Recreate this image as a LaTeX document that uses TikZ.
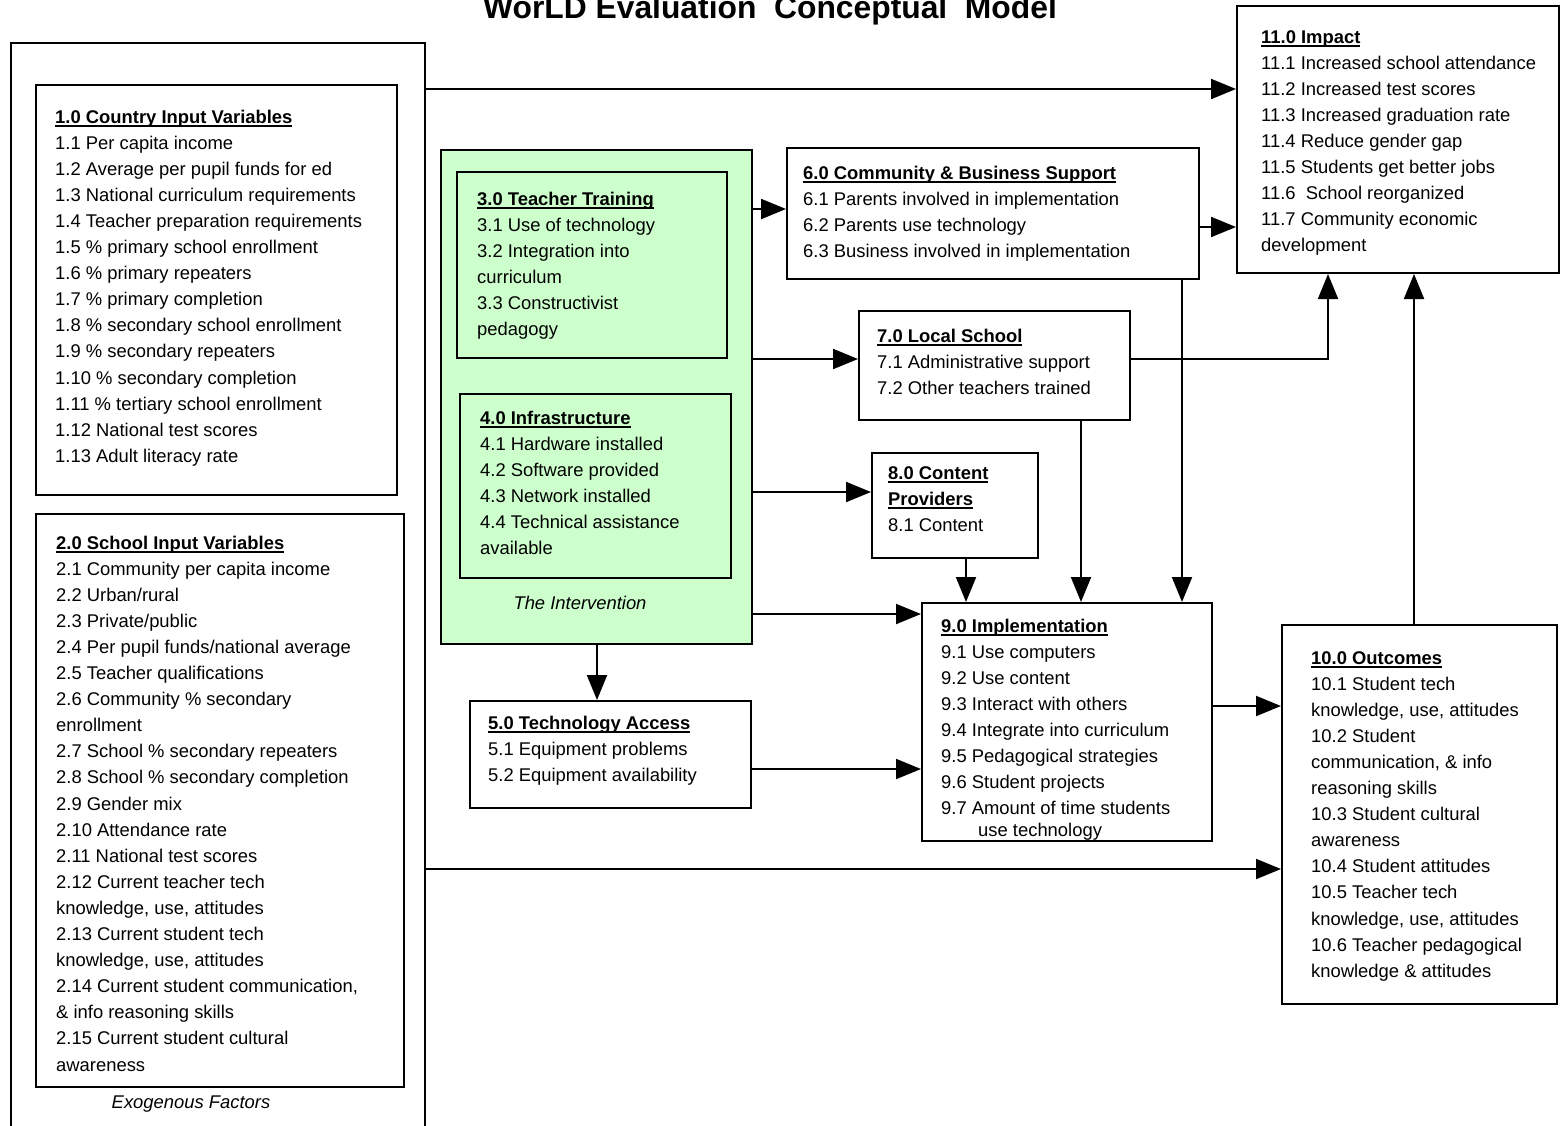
\documentclass[tikz,border=0pt]{standalone}
\usepackage{fontspec}
\setmainfont{Liberation Sans}
\usetikzlibrary{arrows.meta}
\definecolor{intgreen}{RGB}{204,255,204}
\newcommand\bodyfont{\fontsize{18.4}{26.1}\selectfont}
\newsavebox\hdbox
\newcommand\hd[1]{\sbox\hdbox{\textbf{#1}}\rlap{\vrule height -2.3pt depth 3.6pt width \wd\hdbox}\usebox\hdbox}
\newcommand\li[1]{\hbox{#1}}
\tikzset{
  boxnode/.style={draw, line width=2pt, inner sep=0pt, anchor=north west},
  txt/.style={anchor=base west, inner sep=0pt, font=\bodyfont},
  arr/.style={line width=2pt, -{Triangle[length=25pt,width=20pt]}},
}
\begin{document}
\begin{tikzpicture}[x=1pt,y=-1pt]
\useasboundingbox (0,0) rectangle (1560,1125);

% title
\node[anchor=base west, inner sep=0pt, font=\fontsize{31.8}{36}\selectfont\bfseries] (title) at (483,18)
  {WorLD Evaluation\ \ Conceptual\ \ Model};

% boxes
\node[boxnode, minimum width=414pt, minimum height=1100pt] (outer) at (10,42) {};
\node[boxnode, minimum width=361pt, minimum height=410pt] (b1) at (35,84) {};
\node[boxnode, minimum width=368pt, minimum height=573pt] (b2) at (35,513) {};
\node[boxnode, fill=intgreen, minimum width=311pt, minimum height=494pt] (green) at (440,149) {};
\node[boxnode, minimum width=270pt, minimum height=186pt] (b3) at (456,171) {};
\node[boxnode, minimum width=271pt, minimum height=184pt] (b4) at (459,393) {};
\node[boxnode, minimum width=281pt, minimum height=107pt] (b5) at (469,700) {};
\node[boxnode, minimum width=412pt, minimum height=131pt] (b6) at (786,147) {};
\node[boxnode, minimum width=271pt, minimum height=109pt] (b7) at (858,310) {};
\node[boxnode, minimum width=166pt, minimum height=105pt] (b8) at (871,452) {};
\node[boxnode, minimum width=290pt, minimum height=238pt] (b9) at (921,602) {};
\node[boxnode, minimum width=275pt, minimum height=379pt] (b10) at (1281,624) {};
\node[boxnode, minimum width=322pt, minimum height=267pt] (b11) at (1236,5) {};

% texts
\node[txt] (t1) at (55,123) {\vtop{%
\li{\hd{1.0 Country Input Variables}}
\li{1.1 Per capita income}
\li{1.2 Average per pupil funds for ed}
\li{1.3 National curriculum requirements}
\li{1.4 Teacher preparation requirements}
\li{1.5 \% primary school enrollment}
\li{1.6 \% primary repeaters}
\li{1.7 \% primary completion}
\li{1.8 \% secondary school enrollment}
\li{1.9 \% secondary repeaters}
\li{1.10 \% secondary completion}
\li{1.11 \% tertiary school enrollment}
\li{1.12 National test scores}
\li{1.13 Adult literacy rate}}};

\node[txt] (t2) at (56,549) {\vtop{%
\li{\hd{2.0 School Input Variables}}
\li{2.1 Community per capita income}
\li{2.2 Urban/rural}
\li{2.3 Private/public}
\li{2.4 Per pupil funds/national average}
\li{2.5 Teacher qualifications}
\li{2.6 Community \% secondary}
\li{enrollment}
\li{2.7 School \% secondary repeaters}
\li{2.8 School \% secondary completion}
\li{2.9 Gender mix}
\li{2.10 Attendance rate}
\li{2.11 National test scores}
\li{2.12 Current teacher tech}
\li{knowledge, use, attitudes}
\li{2.13 Current student tech}
\li{knowledge, use, attitudes}
\li{2.14 Current student communication,}
\li{\& info reasoning skills}
\li{2.15 Current student cultural}
\li{awareness}}};

\node[anchor=base, inner sep=0pt, font=\bodyfont\itshape] (exo) at (191,1108) {Exogenous Factors};

\node[txt] (t3) at (477,205) {\vtop{%
\li{\hd{3.0 Teacher Training}}
\li{3.1 Use of technology}
\li{3.2 Integration into}
\li{curriculum}
\li{3.3 Constructivist}
\li{pedagogy}}};

\node[txt] (t4) at (480,424) {\vtop{%
\li{\hd{4.0 Infrastructure}}
\li{4.1 Hardware installed}
\li{4.2 Software provided}
\li{4.3 Network installed}
\li{4.4 Technical assistance}
\li{available}}};

\node[anchor=base, inner sep=0pt, font=\bodyfont\itshape] (interv) at (580,609) {The Intervention};

\node[txt] (t5) at (488,729) {\vtop{%
\li{\hd{5.0 Technology Access}}
\li{5.1 Equipment problems}
\li{5.2 Equipment availability}}};

\node[txt] (t6) at (803,179) {\vtop{%
\li{\hd{6.0 Community \& Business Support}}
\li{6.1 Parents involved in implementation}
\li{6.2 Parents use technology}
\li{6.3 Business involved in implementation}}};

\node[txt] (t7) at (877,342) {\vtop{%
\li{\hd{7.0 Local School}}
\li{7.1 Administrative support}
\li{7.2 Other teachers trained}}};

\node[txt] (t8) at (888,479) {\vtop{%
\li{\hd{8.0 Content}}
\li{\hd{Providers}}
\li{8.1 Content}}};

\node[txt] (t9) at (941,632) {\vtop{%
\li{\hd{9.0 Implementation}}
\li{9.1 Use computers}
\li{9.2 Use content}
\li{9.3 Interact with others}
\li{9.4 Integrate into curriculum}
\li{9.5 Pedagogical strategies}
\li{9.6 Student projects}
\li{9.7 Amount of time students}
\vskip-4.5pt
\li{\hspace*{37pt}use technology}}};

\node[txt] (t10) at (1311,664) {\vtop{%
\li{\hd{10.0 Outcomes}}
\li{10.1 Student tech}
\li{knowledge, use, attitudes}
\li{10.2 Student}
\li{communication, \& info}
\li{reasoning skills}
\li{10.3 Student cultural}
\li{awareness}
\li{10.4 Student attitudes}
\li{10.5 Teacher tech}
\li{knowledge, use, attitudes}
\li{10.6 Teacher pedagogical}
\li{knowledge \& attitudes}}};

\node[txt] (t11) at (1261,43) {\vtop{%
\li{\hd{11.0 Impact}}
\li{11.1 Increased school attendance}
\li{11.2 Increased test scores}
\li{11.3 Increased graduation rate}
\li{11.4 Reduce gender gap}
\li{11.5 Students get better jobs}
\li{11.6\ \ School reorganized}
\li{11.7 Community economic}
\li{development}}};

% connectors
\draw[arr] (outer.east |- 0,89) -- (b11.west |- 0,89);
\draw[arr] (outer.east |- 0,869) -- (b10.west |- 0,869);
\draw[arr] (green.east |- 0,209) -- (b6.west |- 0,209);
\draw[arr] (b6.east |- 0,227) -- (b11.west |- 0,227);
\draw[arr] (green.east |- 0,359) -- (b7.west |- 0,359);
\draw[arr] (green.east |- 0,492) -- (b8.west |- 0,492);
\draw[arr] (green.east |- 0,614) -- (b9.west |- 0,614);
\draw[arr] (green.south -| 597,0) -- (b5.north -| 597,0);
\draw[arr] (b5.east |- 0,769) -- (b9.west |- 0,769);
\draw[arr] (b9.east |- 0,706) -- (b10.west |- 0,706);
\draw[arr] (b8.south -| 966,0) -- (b9.north -| 966,0);
\draw[arr] (b7.south -| 1081,0) -- (b9.north -| 1081,0);
\draw[arr] (b6.south -| 1182,0) -- (b9.north -| 1182,0);
\draw[arr] (b7.east |- 0,359) -| (b11.south -| 1328,0);
\draw[arr] (b10.north -| 1414,0) -- (b11.south -| 1414,0);
\end{tikzpicture}
\end{document}
